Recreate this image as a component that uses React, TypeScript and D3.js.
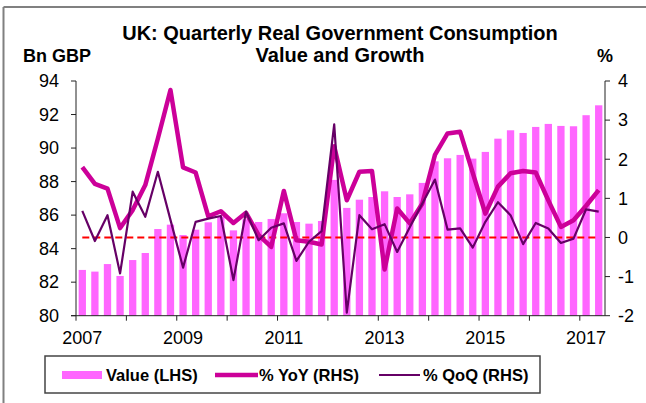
import * as d3 from 'd3';

// 2007 Q1 .. 2017 Q2
const QUARTERS: string[] = [];
for (let y = 2007; y <= 2017; y++) {
  for (let q = 1; q <= 4; q++) {
    if (y === 2017 && q > 2) break;
    QUARTERS.push(`${y}Q${q}`);
  }
}

const YEAR_LABELS = ['2007', '2009', '2011', '2013', '2015', '2017'];

// Bn GBP (LHS)
const VALUE = [
  82.73, 82.63, 83.08, 82.37, 83.32, 83.74, 85.17, 85.43, 84.81, 85.13, 85.57,
  85.91, 85.09, 85.75, 85.59, 85.77, 86.11, 85.59, 85.49, 85.65, 88.1, 86.43,
  86.92, 87.08, 87.42, 87.08, 87.24, 87.92, 89.21, 89.39, 89.59, 89.37, 89.77,
  90.56, 91.06, 90.9, 91.26, 91.44, 91.32, 91.3, 91.96, 92.55,
];

// % YoY (RHS)
const YOY = [
  1.8, 1.37, 1.25, 0.24, 0.7, 1.34, 2.53, 3.77, 1.79, 1.66, 0.54, 0.67, 0.37,
  0.63, 0.06, -0.24, 1.19, -0.07, -0.11, -0.18, 2.33, 0.95, 1.68, 1.7, -0.82,
  0.74, 0.36, 0.87, 2.11, 2.66, 2.7, 1.65, 0.61, 1.3, 1.64, 1.7, 1.66, 0.95,
  0.27, 0.44, 0.81, 1.21,
];

// % QoQ (RHS)
const QOQ = [
  0.68, -0.09, 0.57, -0.92, 1.17, 0.53, 1.68, 0.45, -0.77, 0.4, 0.48, 0.55,
  -1.09, 0.66, -0.07, 0.25, 0.36, -0.6, -0.11, 0.16, 2.89, -1.92, 0.57, 0.21,
  0.34, -0.37, 0.26, 0.87, 1.48, 0.2, 0.23, -0.26, 0.4, 0.9, 0.57, -0.17, 0.37,
  0.23, -0.14, -0.03, 0.72, 0.66,
];

const LEFT_TICKS = [80, 82, 84, 86, 88, 90, 92, 94];
const RIGHT_TICKS = [-2, -1, 0, 1, 2, 3, 4];

const BAR_COLOR = '#ff66ff';
const YOY_COLOR = '#cc0099';
const QOQ_COLOR = '#660066';
const ZERO_COLOR = '#ff0000';
const AXIS_COLOR = '#222';
const FONT = '"Liberation Sans", Arial, sans-serif';

const W = 646;
const H = 403;
const plot = { left: 76, right: 605, top: 81, bottom: 315.7 };

export default function App() {
  const x = d3
    .scaleBand<number>()
    .domain(QUARTERS.map((_, i) => i))
    .range([plot.left, plot.right])
    .paddingInner(0.42)
    .paddingOuter(0.21);
  const step = x.step();
  const cx = (i: number) => (x(i) as number) + x.bandwidth() / 2;
  // start of the category slot (where Excel puts the year ticks)
  const slot = (i: number) => plot.left + i * step;

  const yL = d3.scaleLinear().domain([80, 94]).range([plot.bottom, plot.top]);
  const yR = d3.scaleLinear().domain([-2, 4]).range([plot.bottom, plot.top]);

  const lineR = d3
    .line<number>()
    .x((_, i) => cx(i))
    .y((d) => yR(d));

  const yearTickIdx = d3.range(0, QUARTERS.length, 4);

  return (
    <svg
      width={W}
      height={H}
      style={{ position: 'absolute', left: 0, top: 0, background: '#fff' }}
      fontFamily={FONT}
    >
      <rect x={0} y={0} width={W} height={H} fill="#fff" />
      {/* outer frame (left + top visible) */}
      <line x1={3.5} x2={W} y1={7} y2={7} stroke="#808080" strokeWidth={2} />
      <line x1={3.5} x2={3.5} y1={7} y2={H} stroke="#808080" strokeWidth={2} />

      {/* titles */}
      <text x={340} y={40} textAnchor="middle" fontSize={20} fontWeight="bold">
        UK: Quarterly Real Government Consumption
      </text>
      <text x={340} y={62} textAnchor="middle" fontSize={20} fontWeight="bold">
        Value and Growth
      </text>
      <text x={23} y={62} fontSize={18} fontWeight="bold">
        Bn GBP
      </text>
      <text x={597} y={62} fontSize={18} fontWeight="bold">
        %
      </text>

      {/* bars */}
      {VALUE.map((v, i) => (
        <rect
          key={i}
          x={x(i)}
          y={yL(v)}
          width={x.bandwidth()}
          height={plot.bottom - yL(v)}
          fill={BAR_COLOR}
        />
      ))}

      {/* zero line */}
      <path
        d={lineR(QUARTERS.map(() => 0)) as string}
        fill="none"
        stroke={ZERO_COLOR}
        strokeWidth={2}
        strokeDasharray="7,4"
      />

      {/* YoY */}
      <path
        d={lineR(YOY) as string}
        fill="none"
        stroke={YOY_COLOR}
        strokeWidth={4.5}
        strokeLinejoin="round"
      />
      {/* QoQ */}
      <path
        d={lineR(QOQ) as string}
        fill="none"
        stroke={QOQ_COLOR}
        strokeWidth={2.2}
        strokeLinejoin="round"
      />

      {/* left axis */}
      <line x1={plot.left} x2={plot.left} y1={plot.top} y2={plot.bottom} stroke={AXIS_COLOR} />
      {LEFT_TICKS.map((t) => (
        <g key={t}>
          <line x1={plot.left - 5} x2={plot.left} y1={yL(t)} y2={yL(t)} stroke={AXIS_COLOR} />
          <text x={59} y={yL(t)} dy="0.35em" textAnchor="end" fontSize={18}>
            {t}
          </text>
        </g>
      ))}

      {/* right axis */}
      <line x1={plot.right} x2={plot.right} y1={plot.top} y2={plot.bottom} stroke={AXIS_COLOR} />
      {RIGHT_TICKS.map((t) => (
        <g key={t}>
          <line x1={plot.right} x2={plot.right + 5} y1={yR(t)} y2={yR(t)} stroke={AXIS_COLOR} />
          <text x={618} y={yR(t)} dy="0.35em" fontSize={18}>
            {t}
          </text>
        </g>
      ))}

      {/* x axis */}
      <line x1={plot.left - 5} x2={plot.right} y1={plot.bottom} y2={plot.bottom} stroke={AXIS_COLOR} />
      {yearTickIdx.map((i) => (
        <line
          key={i}
          x1={slot(i)}
          x2={slot(i)}
          y1={plot.bottom}
          y2={plot.bottom + 5}
          stroke={AXIS_COLOR}
        />
      ))}
      {YEAR_LABELS.map((lab) => {
        const i = QUARTERS.indexOf(`${lab}Q1`);
        return (
          <text key={lab} x={cx(i)} y={344} textAnchor="middle" fontSize={18}>
            {lab}
          </text>
        );
      })}

      {/* legend */}
      <rect x={45} y={356} width={495} height={37} fill="#fff" stroke="#444" strokeWidth={1.5} />
      <rect x={62} y={371} width={40} height={8} fill={BAR_COLOR} />
      <text x={106} y={381} fontSize={16.5} fontWeight="bold">
        Value (LHS)
      </text>
      <line x1={215} x2={258} y1={375} y2={375} stroke={YOY_COLOR} strokeWidth={4.5} />
      <text x={259} y={381} fontSize={16.5} fontWeight="bold">
        % YoY (RHS)
      </text>
      <line x1={379} x2={420} y1={375} y2={375} stroke={QOQ_COLOR} strokeWidth={2.2} />
      <text x={423} y={381} fontSize={16.5} fontWeight="bold">
        % QoQ (RHS)
      </text>
    </svg>
  );
}
